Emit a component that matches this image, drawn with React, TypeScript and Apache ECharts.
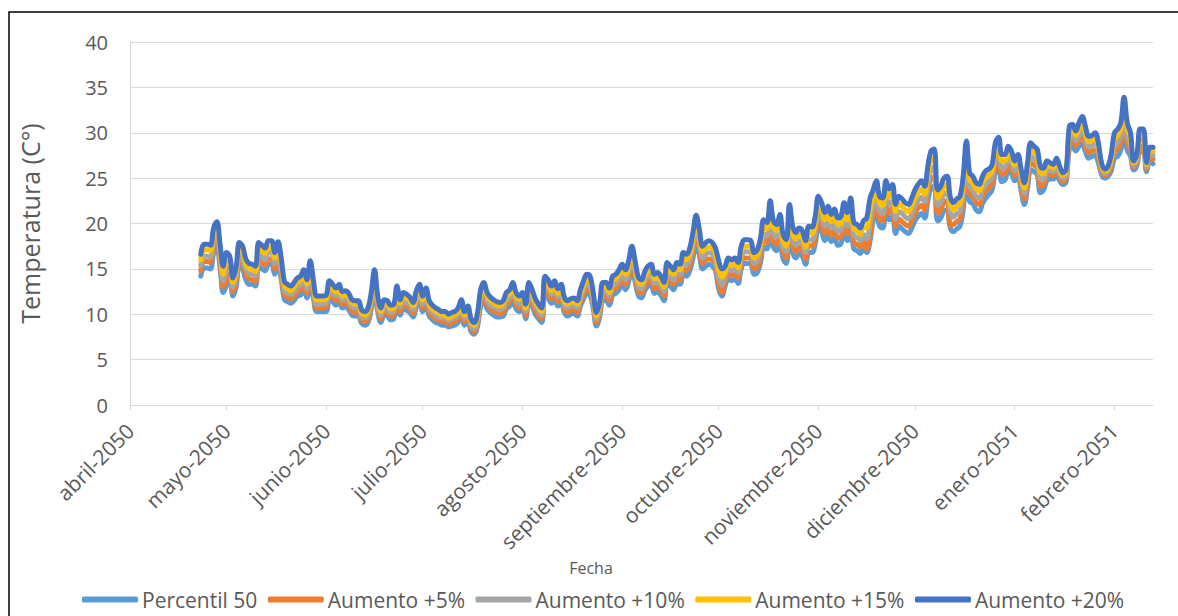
import React, { useEffect, useRef } from "react";
import * as echarts from "echarts";

// Axis: daily categories from 1 April 2050, 319 days (to 13 Feb 2051)
const START_YEAR = 2050;
const START_MONTH = 3; // April (0-based)
const DAY_COUNT = 319;
const FIRST_DATA_DAY = 22; // data starts 23 April 2050

const MONTH_LABELS = [
  "abril-2050", "mayo-2050", "junio-2050", "julio-2050", "agosto-2050",
  "septiembre-2050", "octubre-2050", "noviembre-2050", "diciembre-2050",
  "enero-2051", "febrero-2051",
];

const SERIES_NAMES = ["Percentil 50", "Aumento +5%", "Aumento +10%", "Aumento +15%", "Aumento +20%"];
const SERIES_COLORS = ["#5B9BD5", "#ED7D31", "#A5A5A5", "#FFC000", "#4472C4"];

const aumento20 = [
  16.6,17.7,17.7,17.6,19.5,20.2,17.7,15.3,16.8,16.4,
  14.0,15.2,17.9,17.5,16.1,15.6,15.5,15.3,17.9,17.6,
  17.3,18.1,18.1,16.8,18.0,16.2,13.6,13.3,13.1,13.5,
  14.0,14.2,14.9,13.8,15.9,13.8,12.0,12.0,12.0,12.1,
  13.7,13.3,12.9,13.3,12.5,12.6,12.3,11.6,11.5,11.5,
  10.5,10.3,10.7,12.4,14.9,12.0,10.7,11.6,11.5,11.0,
  11.1,13.1,11.6,12.4,12.2,11.9,11.3,12.6,13.3,12.0,
  12.9,11.5,11.0,10.7,10.5,10.3,10.3,10.0,10.2,10.3,
  10.7,11.6,10.3,10.9,9.5,9.1,10.1,12.7,13.5,12.4,
  11.9,11.6,11.4,11.3,11.5,12.4,12.7,13.5,12.4,12.0,
  12.4,11.1,13.5,12.7,11.7,11.1,10.7,14.2,13.8,13.1,
  13.7,12.8,13.3,11.9,11.5,11.7,11.8,11.5,12.7,13.7,
  14.4,14.2,12.4,10.2,11.3,13.5,13.5,12.9,14.2,14.4,
  14.9,15.5,14.9,15.9,17.5,15.9,14.1,13.8,14.7,15.3,
  15.5,14.4,14.6,14.2,13.5,15.7,15.3,14.9,15.7,15.5,
  16.8,16.6,17.3,19.0,20.9,19.3,17.5,17.9,18.1,17.9,
  17.3,15.9,15.0,15.3,16.2,16.0,16.2,15.7,17.5,18.2,
  18.2,18.1,16.8,17.1,18.4,20.4,20.1,22.5,20.3,19.9,
  21.0,18.8,18.2,22.1,19.7,19.0,19.5,19.2,18.1,19.7,
  19.6,20.8,23.0,22.3,21.2,21.9,21.0,21.6,20.6,20.8,
  22.3,21.2,22.8,20.1,19.9,19.5,20.3,20.6,22.7,23.7,
  24.7,23.0,22.8,24.7,23.8,24.3,22.1,23.0,22.7,22.3,
  22.1,22.8,23.7,24.3,24.7,24.1,26.3,28.0,28.2,23.7,
  24.1,25.0,25.2,22.9,22.3,22.7,23.0,25.2,29.1,25.6,
  25.2,24.5,24.3,25.2,25.8,26.0,26.5,28.9,29.5,27.6,
  27.6,28.5,28.0,26.9,27.6,26.0,24.5,26.7,28.9,28.5,
  28.2,26.3,26.1,26.9,26.7,26.5,27.2,26.3,25.6,26.0,
  30.7,30.9,30.2,31.1,31.8,30.7,29.6,29.7,30.0,28.9,
  26.7,26.0,26.3,27.6,30.0,30.4,31.1,33.9,31.1,30.0,
  26.9,27.6,30.4,30.4,26.7,28.4,28.4,
];

const aumento15 = [
  16.0,17.1,17.1,17.0,18.8,19.5,17.1,14.4,15.8,15.8,
  13.5,14.7,17.3,16.9,15.5,15.0,14.9,14.7,17.3,17.0,
  16.7,17.4,17.4,16.2,17.3,15.6,13.1,12.8,12.6,13.0,
  13.5,13.7,14.4,13.3,15.3,13.3,11.6,11.6,11.6,11.7,
  13.2,12.8,12.4,12.8,12.0,12.1,11.9,11.2,11.1,11.1,
  10.1,9.9,10.3,12.0,14.4,11.6,10.3,11.2,11.1,10.6,
  10.7,12.6,11.2,12.0,11.8,11.5,10.9,12.1,12.8,11.6,
  12.4,11.1,10.6,10.3,10.1,9.9,9.9,9.6,9.8,9.9,
  10.3,11.2,9.9,10.5,9.2,8.8,9.7,12.2,13.0,12.0,
  11.5,11.2,11.0,10.9,11.1,12.0,12.2,13.0,12.0,11.6,
  12.0,10.7,13.0,12.2,11.3,10.7,10.3,13.7,13.3,12.6,
  13.2,12.3,12.8,11.5,11.1,11.3,11.4,11.1,12.2,13.2,
  13.9,13.7,12.0,9.8,10.9,13.0,13.0,12.4,13.7,13.9,
  14.4,14.9,14.4,15.3,16.9,15.3,13.6,13.3,14.2,14.7,
  14.9,13.9,14.1,13.7,13.0,15.1,14.7,14.4,15.1,14.9,
  16.2,16.0,16.7,18.3,20.1,18.6,16.9,17.3,17.4,17.3,
  16.7,14.9,14.1,14.7,15.6,15.4,15.6,15.1,16.9,17.5,
  17.5,17.4,16.2,16.5,17.7,19.7,19.4,21.7,19.6,19.2,
  20.2,18.1,17.5,21.3,19.0,18.3,18.8,18.5,17.4,19.0,
  18.9,20.0,22.2,21.5,20.4,21.1,20.2,20.8,19.9,20.0,
  21.5,20.4,22.0,19.4,19.2,18.8,19.6,19.5,21.5,22.8,
  23.8,22.2,22.0,23.8,22.9,23.4,21.3,22.2,21.9,21.5,
  21.3,22.0,22.8,23.4,23.8,23.2,25.3,27.0,27.2,22.8,
  23.2,24.1,24.3,22.1,21.5,21.9,22.2,24.3,28.0,24.8,
  24.5,23.8,23.6,24.5,25.1,25.3,25.8,28.1,28.7,26.9,
  26.9,27.8,27.4,26.4,27.0,25.4,23.9,26.0,28.2,27.8,
  27.5,25.6,25.5,26.4,26.3,26.1,26.8,25.9,25.3,25.7,
  30.1,30.3,29.7,30.5,31.1,30.0,29.0,29.1,29.4,28.4,
  26.4,25.8,26.0,27.2,29.3,29.7,30.4,32.9,30.4,29.4,
  26.7,27.3,29.8,29.8,26.5,28.0,28.0,
];

const aumento10 = [
  15.4,16.4,16.4,16.3,18.1,18.7,16.4,13.7,14.8,15.2,
  13.0,14.1,16.6,16.2,14.9,14.5,14.4,14.2,16.6,16.3,
  16.0,16.8,16.8,15.6,16.7,15.0,12.6,12.3,12.2,12.5,
  13.0,13.2,13.8,12.8,14.7,12.8,11.1,11.1,11.1,11.2,
  12.7,12.3,12.0,12.3,11.6,11.7,11.4,10.8,10.7,10.7,
  9.7,9.6,9.9,11.5,13.8,11.1,9.9,10.8,10.7,10.2,
  10.3,12.2,10.8,11.5,11.3,11.0,10.5,11.7,12.3,11.1,
  12.0,10.7,10.2,9.9,9.7,9.6,9.6,9.3,9.5,9.6,
  9.9,10.8,9.6,10.1,8.8,8.4,9.4,11.8,12.5,11.5,
  11.0,10.8,10.6,10.5,10.7,11.5,11.8,12.5,11.5,11.1,
  11.5,10.3,12.5,11.8,10.9,10.3,9.9,13.2,12.8,12.2,
  12.7,11.9,12.3,11.0,10.7,10.9,10.9,10.7,11.8,12.7,
  13.4,13.2,11.5,9.5,10.5,12.5,12.5,12.0,13.2,13.4,
  13.8,14.4,13.8,14.7,16.2,14.7,13.1,12.8,13.6,14.2,
  14.4,13.4,13.5,13.2,12.5,14.6,14.2,13.8,14.6,14.4,
  15.6,15.4,16.0,17.6,19.4,17.9,16.2,16.6,16.8,16.6,
  16.0,14.0,13.2,14.2,15.0,14.8,15.0,14.6,16.2,16.9,
  16.9,16.8,15.6,15.9,17.1,18.9,18.6,20.9,18.8,18.5,
  19.5,17.4,16.9,20.5,18.3,17.6,18.1,17.8,16.8,18.3,
  18.2,19.3,21.3,20.7,19.7,20.3,19.5,20.0,19.1,19.3,
  20.7,19.7,21.1,18.6,18.5,18.1,18.8,18.3,20.0,22.0,
  22.9,21.3,21.1,22.9,22.1,22.5,20.5,21.3,21.1,20.7,
  20.5,21.1,22.0,22.5,22.9,22.4,24.4,26.0,26.2,22.0,
  22.4,23.2,23.4,21.2,20.7,21.1,21.3,23.4,27.0,24.0,
  23.7,23.0,22.8,23.7,24.3,24.6,25.1,27.3,27.8,26.1,
  26.2,27.1,26.8,25.8,26.5,24.8,23.3,25.3,27.4,27.1,
  26.8,24.9,24.9,25.8,25.8,25.7,26.3,25.5,25.0,25.3,
  29.5,29.7,29.1,29.8,30.3,29.3,28.4,28.6,28.8,27.8,
  26.1,25.5,25.8,26.7,28.6,28.9,29.6,31.9,29.6,28.7,
  26.4,27.0,29.2,29.2,26.2,27.6,27.5,
];

const aumento5 = [
  14.8,15.8,15.8,15.7,17.4,18.0,15.8,13.0,13.8,14.6,
  12.5,13.6,16.0,15.6,14.4,13.9,13.8,13.6,16.0,15.7,
  15.4,16.1,16.1,15.0,16.0,14.4,12.1,11.9,11.7,12.0,
  12.5,12.7,13.3,12.3,14.2,12.3,10.7,10.7,10.7,10.8,
  12.2,11.9,11.5,11.9,11.1,11.2,11.0,10.3,10.2,10.2,
  9.4,9.2,9.5,11.1,13.3,10.7,9.5,10.3,10.2,9.8,
  9.9,11.7,10.3,11.1,10.9,10.6,10.1,11.2,11.9,10.7,
  11.5,10.2,9.8,9.5,9.4,9.2,9.2,8.9,9.1,9.2,
  9.5,10.3,9.2,9.7,8.5,8.1,9.0,11.3,12.0,11.1,
  10.6,10.3,10.2,10.1,10.2,11.1,11.3,12.0,11.1,10.7,
  11.1,9.9,12.0,11.3,10.4,9.9,9.5,12.7,12.3,11.7,
  12.2,11.4,11.9,10.6,10.2,10.4,10.5,10.2,11.3,12.2,
  12.8,12.7,11.1,9.1,10.1,12.0,12.0,11.5,12.7,12.8,
  13.3,13.8,13.3,14.2,15.6,14.2,12.6,12.3,13.1,13.6,
  13.8,12.8,13.0,12.7,12.0,14.0,13.6,13.3,14.0,13.8,
  15.0,14.8,15.4,16.9,18.6,17.2,15.6,16.0,16.1,16.0,
  15.4,13.3,12.4,13.6,14.4,14.3,14.4,14.0,15.6,16.2,
  16.2,16.1,15.0,15.2,16.4,18.2,17.9,20.1,18.1,17.7,
  18.7,16.8,16.2,19.7,17.6,16.9,17.4,17.1,16.1,17.6,
  17.5,18.5,20.5,19.9,18.9,19.5,18.7,19.3,18.4,18.5,
  19.9,18.9,20.3,17.9,17.7,17.4,18.1,17.2,18.6,21.1,
  22.0,20.5,20.3,22.0,21.2,21.7,19.7,20.5,20.2,19.9,
  19.7,20.3,21.1,21.7,22.0,21.5,23.4,25.0,25.1,21.1,
  21.5,22.3,22.5,19.8,19.9,20.2,20.5,22.5,25.9,23.2,
  23.0,22.3,22.1,23.0,23.6,23.9,24.4,26.5,27.0,25.4,
  25.5,26.4,26.1,25.3,25.9,24.2,22.7,24.6,26.7,26.4,
  26.1,24.1,24.3,25.3,25.4,25.3,25.9,25.1,24.6,25.0,
  28.8,29.1,28.6,29.2,29.6,28.6,27.8,28.0,28.1,27.3,
  25.7,25.3,25.5,26.3,27.9,28.2,28.9,30.9,28.9,28.1,
  26.2,26.7,28.5,28.5,26.0,27.2,27.1,
];

const percentil50 = [
  14.2,15.1,15.1,15.0,16.7,17.3,15.1,12.4,13.2,14.0,
  12.0,13.0,15.3,15.0,13.8,13.3,13.3,13.1,15.3,15.0,
  14.8,15.5,15.5,14.4,15.4,13.9,11.6,11.4,11.2,11.5,
  12.0,12.1,12.7,11.8,13.6,11.8,10.3,10.3,10.3,10.3,
  11.7,11.4,11.0,11.4,10.7,10.8,10.5,9.9,9.8,9.8,
  9.0,8.8,9.1,10.6,12.7,10.3,9.1,9.9,9.8,9.4,
  9.5,11.2,9.9,10.6,10.4,10.2,9.7,10.8,11.4,10.3,
  11.0,9.8,9.4,9.1,9.0,8.8,8.8,8.6,8.7,8.8,
  9.1,9.9,8.8,9.3,8.1,7.8,8.6,10.9,11.5,10.6,
  10.2,9.9,9.7,9.7,9.8,10.6,10.9,11.5,10.6,10.3,
  10.6,9.5,11.5,10.9,10.0,9.5,9.1,12.1,11.8,11.2,
  11.7,10.9,11.4,10.2,9.8,10.0,10.1,9.8,10.9,11.7,
  12.3,12.1,10.6,8.7,9.7,11.5,11.5,11.0,12.1,12.3,
  12.7,13.3,12.7,13.6,15.0,13.6,12.1,11.8,12.6,13.1,
  13.3,12.3,12.5,12.1,11.5,13.4,13.1,12.7,13.4,13.3,
  14.4,14.2,14.8,16.2,17.9,16.5,15.0,15.3,15.5,15.3,
  14.8,12.8,12.0,13.1,13.9,13.7,13.9,13.4,15.0,15.6,
  15.6,15.5,14.4,14.6,15.7,17.4,17.2,19.2,17.4,17.0,
  18.0,16.1,15.6,18.9,16.8,16.2,16.7,16.4,15.5,16.8,
  16.8,17.8,19.7,19.1,18.1,18.7,18.0,18.5,17.6,17.8,
  19.1,18.1,19.5,17.2,17.0,16.7,17.4,16.8,18.0,20.3,
  21.1,19.7,19.5,21.1,20.4,20.8,18.9,19.7,19.4,19.1,
  18.9,19.5,20.3,20.8,21.1,20.6,22.5,23.9,24.1,20.3,
  20.6,21.4,21.5,19.5,19.1,19.4,19.7,21.5,24.9,22.4,
  22.2,21.5,21.3,22.2,22.8,23.2,23.7,25.7,26.1,24.6,
  24.8,25.7,25.5,24.7,25.3,23.6,22.1,23.9,25.9,25.7,
  25.4,23.4,23.7,24.7,24.9,24.9,25.4,24.7,24.3,24.6,
  28.2,28.5,28.0,28.5,28.8,27.9,27.2,27.4,27.5,26.7,
  25.4,25.0,25.2,25.8,27.2,27.4,28.1,29.9,28.1,27.4,
  25.9,26.4,27.9,27.9,25.7,26.8,26.6,
];

const SERIES_VALUES = [percentil50, aumento5, aumento10, aumento15, aumento20];

export default function App() {
  const ref = useRef<HTMLDivElement>(null);

  useEffect(() => {
    if (!ref.current) return;
    const chart = echarts.init(ref.current, undefined, { renderer: "svg" });

    const categories: string[] = [];
    const monthLabelAt: (string | null)[] = [];
    for (let i = 0; i < DAY_COUNT; i++) {
      const d = new Date(Date.UTC(START_YEAR, START_MONTH, 1 + i));
      const y = d.getUTCFullYear();
      const m = d.getUTCMonth();
      const day = d.getUTCDate();
      categories.push(`${y}-${m + 1}-${day}`);
      if (day === 1) {
        const idx = (y - START_YEAR) * 12 + m - START_MONTH;
        monthLabelAt.push(MONTH_LABELS[idx] ?? null);
      } else {
        monthLabelAt.push(null);
      }
    }
    const isMonthStart = (i: number) => monthLabelAt[i] !== null;

    const pad: (number | null)[] = new Array(FIRST_DATA_DAY).fill(null);

    const textColor = "#595959";
    const font = "'Open Sans', 'Noto Sans', sans-serif";

    chart.setOption({
      animation: false,
      textStyle: { fontFamily: font },
      grid: { left: 130, right: 25, top: 42, bottom: 211, containLabel: false },
      xAxis: {
        type: "category",
        data: categories,
        boundaryGap: false,
        axisLine: { show: true, lineStyle: { color: "#d9d9d9", width: 1 } },
        axisTick: {
          show: true,
          interval: (i: number) => isMonthStart(i),
          length: 5,
          lineStyle: { color: "#d9d9d9" },
        },
        axisLabel: {
          interval: (i: number) => isMonthStart(i),
          formatter: (_v: string, i: number) => monthLabelAt[i] ?? "",
          rotate: 45,
          margin: 22,
          fontSize: 21,
          color: textColor,
          fontFamily: font,
        },
        splitLine: { show: false },
      },
      yAxis: {
        type: "value",
        min: 0,
        max: 40,
        interval: 5,
        axisLine: { show: true, lineStyle: { color: "#d9d9d9", width: 1 } },
        axisTick: { show: false },
        splitLine: { show: true, lineStyle: { color: "#d9d9d9", width: 1 } },
        axisLabel: { fontSize: 20, color: textColor, margin: 22, fontFamily: font },
        name: "Temperatura (C°)",
        nameLocation: "middle",
        nameGap: 88,
        nameTextStyle: { fontSize: 25, color: textColor, fontFamily: font },
      },
      legend: {
        left: 82,
        top: 589,
        itemWidth: 56,
        itemHeight: 6,
        itemGap: 10.5,
        icon: "roundRect",
        padding: 0,
        textStyle: { fontSize: 21, color: textColor, fontFamily: font, padding: [0, 0, 0, -1] },
        data: SERIES_NAMES,
      },
      graphic: [
        {
          type: "rect",
          silent: true,
          shape: { x: 9, y: 12, width: 1300, height: 700 },
          style: { fill: "none", stroke: "#000000", lineWidth: 1.5 },
        },
        {
          type: "text",
          silent: true,
          x: 591,
          y: 568,
          style: {
            text: "Fecha",
            fontSize: 16,
            fill: textColor,
            fontFamily: font,
            textAlign: "center",
            textVerticalAlign: "middle",
          },
        },
      ],
      series: SERIES_NAMES.map((name, k) => ({
        name,
        type: "line",
        data: pad.concat(SERIES_VALUES[k]),
        symbol: "none",
        smooth: 0.4,
        connectNulls: false,
        color: SERIES_COLORS[k],
        lineStyle: { color: SERIES_COLORS[k], width: 5, join: "round", cap: "round" },
        itemStyle: { color: SERIES_COLORS[k] },
        z: 2 + k,
      })),
    });

    return () => chart.dispose();
  }, []);

  return (
    <div
      ref={ref}
      style={{ position: "absolute", left: 0, top: 0, width: 1178, height: 616, background: "#ffffff" }}
    />
  );
}
